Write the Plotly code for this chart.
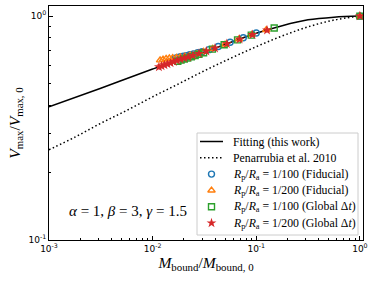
import plotly.graph_objects as go

# Fitting curve (this work)
fit_x = [0.001, 0.00316, 0.01, 0.0178, 0.0316, 0.0562, 0.1, 0.178, 0.316, 0.562, 1.0]
fit_y = [0.393, 0.476, 0.580, 0.637, 0.692, 0.762, 0.838, 0.906, 0.962, 0.989, 1.0]

# Penarrubia et al. 2010 curve
pen_x = [0.001, 0.00178, 0.00316, 0.00562, 0.01, 0.0178, 0.0316, 0.0562, 0.1, 0.178, 0.316, 0.562, 1.0]
pen_y = [0.253, 0.288, 0.332, 0.379, 0.436, 0.498, 0.570, 0.647, 0.730, 0.815, 0.895, 0.960, 1.0]

# Rp/Ra = 1/100 (Fiducial)
c_x = [0.0165, 0.0175, 0.0186, 0.0198, 0.0212, 0.0228, 0.0248, 0.0272, 0.030, 0.035, 0.043, 0.056, 0.075, 0.100, 1.0]
c_y = [0.648, 0.653, 0.658, 0.662, 0.666, 0.672, 0.678, 0.686, 0.694, 0.708, 0.731, 0.764, 0.800, 0.840, 1.0]

# Rp/Ra = 1/200 (Fiducial)
t_x = [0.0118, 0.0126, 0.0135, 0.0145, 0.0156, 0.0170, 0.0185, 0.0205, 0.0230, 0.0265, 0.031, 0.038, 0.050, 0.068, 0.090, 0.125, 1.0]
t_y = [0.635, 0.640, 0.645, 0.648, 0.650, 0.652, 0.655, 0.660, 0.668, 0.678, 0.693, 0.716, 0.748, 0.788, 0.826, 0.868, 1.0]

# Rp/Ra = 1/100 (Global dt)
s_x = [0.0175, 0.0188, 0.0202, 0.0218, 0.0236, 0.0257, 0.028, 0.031, 0.0377, 0.049, 0.066, 0.0895, 0.149, 1.0]
s_y = [0.628, 0.636, 0.643, 0.650, 0.658, 0.667, 0.675, 0.686, 0.712, 0.745, 0.783, 0.822, 0.885, 1.0]

# Rp/Ra = 1/200 (Global dt)
r_x = [0.0115, 0.0122, 0.013, 0.0139, 0.0149, 0.016, 0.0172, 0.0186, 0.0202, 0.022, 0.0245, 0.028, 0.033, 0.040, 0.052, 0.069, 0.092, 0.127, 1.0]
r_y = [0.593, 0.598, 0.605, 0.611, 0.618, 0.626, 0.634, 0.641, 0.649, 0.656, 0.667, 0.680, 0.697, 0.719, 0.752, 0.788, 0.826, 0.865, 1.0]

x_ticks = [0.001, 0.01, 0.1, 1]
x_ticktext = ["10<sup>-3</sup>", "10<sup>-2</sup>", "10<sup>-1</sup>", "10<sup>0</sup>"]
y_ticks = [0.1, 1]
y_ticktext = ["10<sup>-1</sup>", "10<sup>0</sup>"]

legend_labels = [
    "Fitting (this work)",
    "Penarrubia et al. 2010",
    "<i>R</i><sub>p</sub>/<i>R</i><sub>a</sub> = 1/100 (Fiducial)",
    "<i>R</i><sub>p</sub>/<i>R</i><sub>a</sub> = 1/200 (Fiducial)",
    "<i>R</i><sub>p</sub>/<i>R</i><sub>a</sub> = 1/100 (Global Δ<i>t</i>)",
    "<i>R</i><sub>p</sub>/<i>R</i><sub>a</sub> = 1/200 (Global Δ<i>t</i>)",
]

SERIF = "Liberation Serif"
BLUE, ORANGE, GREEN, RED = "#1f77b4", "#ff7f0e", "#2ca02c", "#d62728"

line_styles = [dict(color="black", width=1.5), dict(color="black", width=1.5, dash="1.5px,2.5px")]
marker_styles = [
    dict(symbol="circle-open", size=6, color=BLUE, line=dict(width=1.4, color=BLUE)),
    dict(symbol="triangle-up-open", size=6.5, color=ORANGE, line=dict(width=1.4, color=ORANGE)),
    dict(symbol="square-open", size=6, color=GREEN, line=dict(width=1.4, color=GREEN)),
    dict(symbol="star", size=7.5, color=RED, line=dict(width=0)),
]

fig = go.Figure()
fig.add_trace(go.Scatter(x=fit_x, y=fit_y, mode="lines", line=dict(shape="spline", **line_styles[0]),
                         name=legend_labels[0], showlegend=False))
fig.add_trace(go.Scatter(x=pen_x, y=pen_y, mode="lines", line=dict(shape="spline", **line_styles[1]),
                         name=legend_labels[1], showlegend=False))
for xs, ys, ms, nm in zip([c_x, t_x, s_x, r_x], [c_y, t_y, s_y, r_y], marker_styles, legend_labels[2:]):
    fig.add_trace(go.Scatter(x=xs, y=ys, mode="markers", marker=ms, name=nm, showlegend=False))

# ---- hand-drawn legend (on an overlay axis spanning the plot area, 0..1) ----
PX_L, PX_R, PX_T, PX_B = 49, 363, 6, 240
def fx(px):
    return (px - PX_L) / (PX_R - PX_L)
def fy(py):
    return (PX_B - py) / (PX_B - PX_T)

box = dict(x0=fx(197), x1=fx(358), y0=fy(235), y1=fy(133))
row_py = [141.5 + 16.3 * i for i in range(6)]
sample_l, sample_r, sample_c, text_l = fx(200), fx(223), fx(211.5), fx(231)

fig.add_shape(type="rect", xref="x2", yref="y2", layer="below", **box,
              line=dict(color="#cccccc", width=1), fillcolor="rgba(255,255,255,0.85)")
for i, ls in enumerate(line_styles):
    fig.add_trace(go.Scatter(x=[sample_l, sample_r], y=[fy(row_py[i])] * 2, mode="lines", line=ls,
                             xaxis="x2", yaxis="y2", showlegend=False, hoverinfo="skip"))
for i, ms in enumerate(marker_styles):
    fig.add_trace(go.Scatter(x=[sample_c], y=[fy(row_py[i + 2])], mode="markers", marker=ms,
                             xaxis="x2", yaxis="y2", showlegend=False, hoverinfo="skip"))
for i, lab in enumerate(legend_labels):
    fig.add_annotation(x=text_l, y=fy(row_py[i]), xref="x2", yref="y2", xanchor="left", yanchor="middle",
                       showarrow=False, text=lab, font=dict(family=SERIF, size=11.8, color="black"))

minor_x = [m * 10.0 ** e for e in range(-3, 0) for m in range(2, 10)]
minor_y = [m * 0.1 for m in range(2, 10)]

axis_common = dict(type="log", showgrid=False, zeroline=False, showline=True, linecolor="black", linewidth=1,
                   mirror=True, ticks="inside", ticklen=4, tickcolor="black", tickwidth=1, automargin=False,
                   tickfont=dict(family="DejaVu Sans", size=9, color="black"))

xaxis = dict(range=[-3, 0.03], tickvals=x_ticks, ticktext=x_ticktext,
             minor=dict(tickvals=minor_x, ticks="inside", ticklen=2, tickcolor="black"),
             title=dict(text="<i>M</i><sub>bound</sub>/<i>M</i><sub>bound, 0</sub>",
                        font=dict(family=SERIF, size=15.5, color="black"), standoff=4),
             **axis_common)
yaxis = dict(range=[-1, 0.045], tickvals=y_ticks, ticktext=y_ticktext,
             minor=dict(tickvals=minor_y, ticks="inside", ticklen=2, tickcolor="black"),
             title=dict(text="<i>V</i><sub>max</sub>/<i>V</i><sub>max, 0</sub>",
                        font=dict(family=SERIF, size=15.5, color="black"), standoff=4),
             **axis_common)

fig.add_annotation(x=fx(127.5), y=fy(211), xref="x2", yref="y2", showarrow=False,
                   text="<i>α</i> = 1, <i>β</i> = 3, <i>γ</i> = 1.5",
                   font=dict(family=SERIF, size=15, color="black"))

fig.update_layout(
    width=374, height=281,
    margin=dict(l=PX_L, r=374 - PX_R, t=PX_T, b=281 - PX_B),
    paper_bgcolor="white", plot_bgcolor="white",
    showlegend=False,
    xaxis=xaxis, yaxis=yaxis,
    xaxis2=dict(overlaying="x", anchor="y2", range=[0, 1], visible=False, fixedrange=True),
    yaxis2=dict(overlaying="y", anchor="x2", range=[0, 1], visible=False, fixedrange=True),
)

fig.write_html("out.html", config=dict(displayModeBar=False),
               post_script="document.body.style.margin='0';document.body.style.padding='0';")
